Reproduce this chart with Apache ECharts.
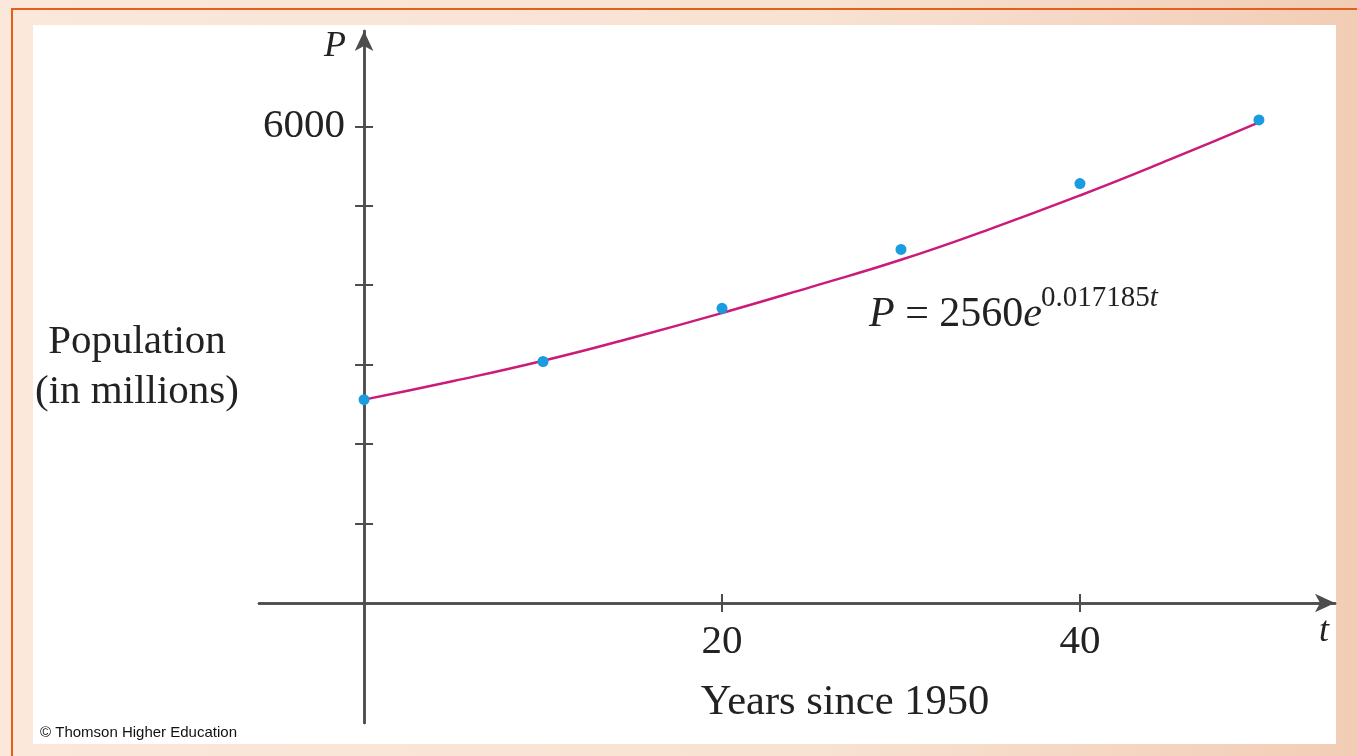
<!DOCTYPE html>
<html>
<head>
<meta charset="utf-8">
<style>
  html, body { margin: 0; padding: 0; width: 1357px; height: 756px; overflow: hidden; }
  body { background: linear-gradient(to right, #fbe8da 0%, #f8e2d2 60%, #f2cdb6 100%); position: relative; }
  #lineTop { position: absolute; left: 11px; top: 8px; width: 1346px; height: 2px; background: #e2601a; }
  #lineLeft { position: absolute; left: 11px; top: 8px; width: 2px; height: 748px; background: #e2601a; }
  #panel { position: absolute; left: 33px; top: 25px; width: 1303px; height: 719px; background: #ffffff; }
  #chart { position: absolute; left: 0; top: 0; width: 1357px; height: 756px; }
</style>
<script src="https://cdn.jsdelivr.net/npm/echarts@6/dist/echarts.min.js"></script>
</head>
<body>
<div id="lineTop"></div>
<div id="lineLeft"></div>
<div id="panel"></div>
<div id="chart"></div>
<script>
// ---- data ----
const years = [0, 10, 20, 30, 40, 50];                       // years since 1950
const population = [2560, 3040, 3710, 4450, 5280, 6080];     // millions
const curveT = [0, 5, 10, 15, 20, 25, 30, 35, 40, 45, 50];
const curveP = [2560, 2795, 3050, 3340, 3650, 3980, 4320, 4710, 5130, 5580, 6050];
const xTicks = [20, 40];
const xTickLabels = [20, 40];
const yTicks = [1000, 2000, 3000, 4000, 5000, 6000];
const yTickLabels = [6000];

const serif = '"Liberation Serif", "Times New Roman", serif';
const axisColor = '#4d4d4d';
const textColor = '#222';

const chart = echarts.init(document.getElementById('chart'), null, { renderer: 'canvas' });

const xRange = { min: -5.87, max: 54.25 };
const yRange = { min: -1510, max: 7200 };

const gridLeft = 259, gridRight = 1335, gridTop = 31, gridBottom = 723;
// pixel offsets of the zero lines from the grid edges (axis labels sit next to the zero lines)
const xZeroFromLeft = 364 - gridLeft;
const yZeroFromBottom = gridBottom - 603;

function xAx(main) {
  return {
    type: 'value', position: 'bottom', min: xRange.min, max: xRange.max,
    axisLine: { show: true, onZero: true, symbol: main ? ['none', 'arrow'] : 'none', symbolSize: [14, 20],
      lineStyle: { color: axisColor, width: 2.5 } },
    axisTick: { show: true, inside: !main, length: 9, customValues: xTicks, lineStyle: { color: axisColor, width: 2 } },
    axisLabel: { show: false },
    splitLine: { show: false }
  };
}
function yAx(main) {
  return {
    type: 'value', position: 'left', min: yRange.min, max: yRange.max,
    axisLine: { show: true, onZero: true, symbol: main ? ['none', 'arrow'] : 'none', symbolSize: [14, 20],
      lineStyle: { color: axisColor, width: 2.5 } },
    axisTick: { show: true, inside: !main, length: 9, customValues: yTicks, lineStyle: { color: axisColor, width: 2 } },
    axisLabel: { show: false },
    splitLine: { show: false }
  };
}
const xLabelAxis = {
  type: 'value', position: 'bottom', min: xRange.min, max: xRange.max, offset: -yZeroFromBottom,
  axisLine: { show: false, onZero: false }, axisTick: { show: false }, splitLine: { show: false },
  axisLabel: { show: true, customValues: xTickLabels, margin: 19, color: textColor, fontFamily: serif, fontSize: 41,
    formatter: v => String(v) }
};
const yLabelAxis = {
  type: 'value', position: 'left', min: yRange.min, max: yRange.max, offset: -xZeroFromLeft,
  axisLine: { show: false, onZero: false }, axisTick: { show: false }, splitLine: { show: false },
  axisLabel: { show: true, customValues: yTickLabels, margin: 19, color: textColor, fontFamily: serif, fontSize: 41,
    formatter: v => String(v) }
};

chart.setOption({
  animation: false,
  grid: { left: gridLeft, right: 1357 - gridRight, top: gridTop, bottom: 756 - gridBottom,
    containLabel: false, outerBoundsMode: 'none' },
  xAxis: [xAx(true), xAx(false), xLabelAxis],
  yAxis: [yAx(true), yAx(false), yLabelAxis],
  series: [
    {
      type: 'line', smooth: true, showSymbol: false,
      data: curveT.map((t, i) => [t, curveP[i]]),
      lineStyle: { color: '#cc1a78', width: 2.5 }, z: 3
    },
    {
      type: 'scatter', symbolSize: 11,
      data: years.map((t, i) => [t, population[i]]),
      itemStyle: { color: '#1a9ce0', opacity: 1 }, z: 4
    }
  ],
  graphic: [
    { type: 'text', x: 335, y: 47, style: { text: 'P', font: 'italic 36px ' + serif, fill: textColor, align: 'center', verticalAlign: 'middle' } },
    { type: 'text', x: 1324, y: 632, style: { text: 't', font: 'italic 36px ' + serif, fill: textColor, align: 'center', verticalAlign: 'middle' } },
    { type: 'text', x: 137, y: 317, style: { text: 'Population\n(in millions)', font: '41px ' + serif, fill: textColor, align: 'center', verticalAlign: 'top', lineHeight: 50 } },
    { type: 'text', x: 845, y: 703, style: { text: 'Years since 1950', font: '42.5px ' + serif, fill: textColor, align: 'center', verticalAlign: 'middle' } },
    { type: 'text', x: 869, y: 315, style: { text: '{i|P} = 2560{i|e}', fill: textColor, font: '42px ' + serif, verticalAlign: 'middle',
        rich: { i: { fontStyle: 'italic', fontFamily: serif, fontSize: 42 } } } },
    { type: 'text', x: 1041, y: 298, style: { text: '0.017185{i|t}', fill: textColor, font: '29px ' + serif, verticalAlign: 'middle',
        rich: { i: { fontStyle: 'italic', fontFamily: serif, fontSize: 29 } } } },
    { type: 'text', x: 40, y: 733, style: { text: '© Thomson Higher Education', font: '15px "Liberation Sans", Arial, sans-serif', fill: '#111', verticalAlign: 'middle' } }
  ]
});
</script>
</body>
</html>
